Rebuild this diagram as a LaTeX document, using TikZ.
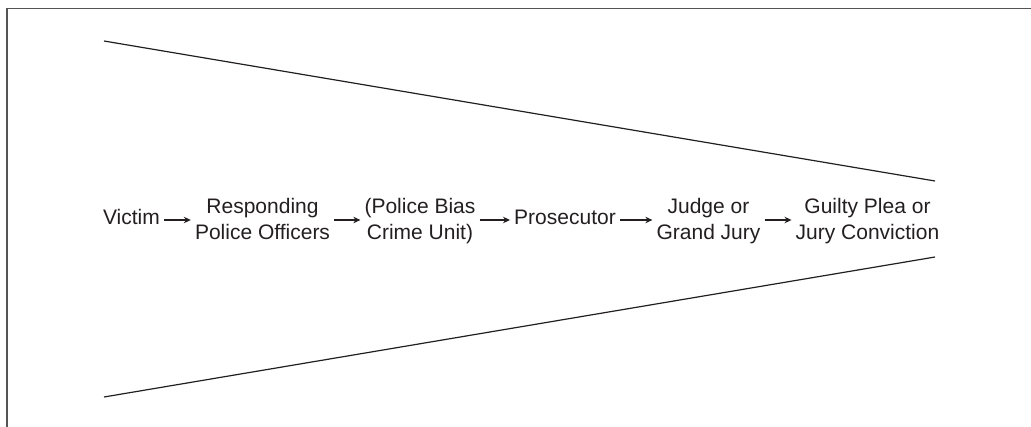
\documentclass[tikz,border=0pt]{standalone}
\usepackage{fontspec}
\setmainfont{Liberation Sans}
\usetikzlibrary{arrows.meta}
\definecolor{ink}{HTML}{231F20}
\definecolor{framec}{HTML}{555555}
\begin{document}
\begin{tikzpicture}[x=1pt,y=-1pt,
  lbl/.style={inner sep=0pt,anchor=base,align=center,text=ink,font=\fontsize{21}{26}\selectfont},
  arr/.style={ink,line width=1.3pt,-{Stealth[length=7pt,width=6.5pt]},shorten <=4pt,shorten >=4pt},
  funnel/.style={ink,line width=1.2pt}]
\useasboundingbox (0,0) rectangle (1031,426);
\draw[framec,line width=1.6pt] (7,440) -- (7,8.5) -- (1040,8.5);
% funnel lines
\coordinate (tl) at (104,41);
\coordinate (tr) at (935,181);
\coordinate (bl) at (104,397);
\coordinate (br) at (935,257);
\draw[funnel] (tl) -- (tr);
\draw[funnel] (bl) -- (br);
% labels
\node[lbl] (victim) at (131.5,224) {Victim};
\node[lbl] (resp) at (262.5,239) {Responding\\Police Officers};
\node[lbl] (unit) at (420,239) {(Police Bias\\Crime Unit)};
\node[lbl] (pros) at (565,224) {Prosecutor};
\node[lbl] (judge) at (708.5,239) {Judge or\\Grand Jury};
\node[lbl] (guilty) at (867.5,239) {Guilty Plea or\\Jury Conviction};
\coordinate (ay) at (0,220);
\draw[arr] (victim.east |- ay) -- (resp.west |- ay);
\draw[arr] (resp.east |- ay) -- (unit.west |- ay);
\draw[arr] (unit.east |- ay) -- (pros.west |- ay);
\draw[arr] (pros.east |- ay) -- (judge.west |- ay);
\draw[arr] (judge.east |- ay) -- (guilty.west |- ay);
\end{tikzpicture}
\end{document}
